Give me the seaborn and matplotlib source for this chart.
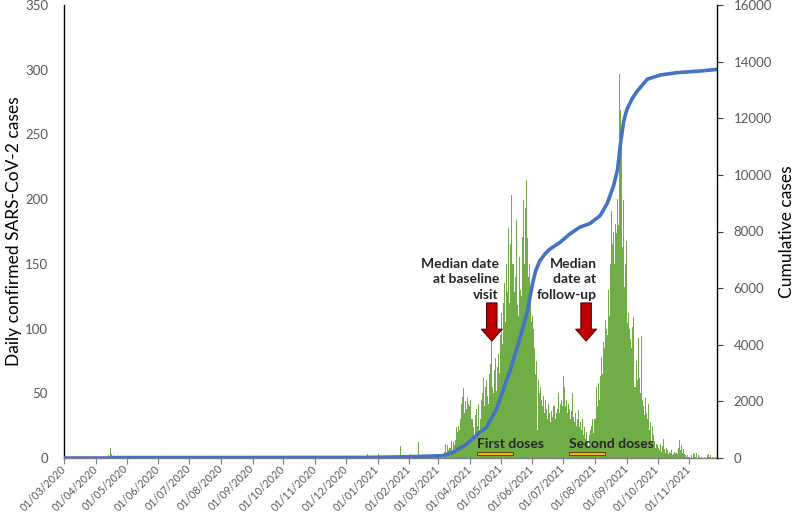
import numpy as np
import pandas as pd
import matplotlib
matplotlib.use("Agg")
import matplotlib.pyplot as plt
import matplotlib.dates as mdates
from matplotlib.patches import Rectangle
import seaborn as sns

# ---------------- data ----------------
early_dates = ["2020-04-11", "2020-04-13", "2020-04-15", "2020-04-16", "2020-04-18",
               "2020-04-21", "2020-05-02", "2020-12-18", "2020-12-22", "2020-12-23",
               "2020-12-28", "2021-01-02", "2021-01-06", "2021-01-13", "2021-01-18",
               "2021-01-23", "2021-01-26"]
early_cases = [1, 2, 8, 3, 2, 1, 1, 1, 3, 1, 1, 3, 1, 1, 2, 9, 1]

feb_2021 = [0, 3, 0, 0, 1, 0, 0, 2, 0, 12, 1, 0, 0, 1, 0, 0, 2, 0, 1, 0, 0, 1, 2, 0, 1, 0, 3, 1]
mar_2021 = [1, 0, 2, 1, 0, 3, 5, 11, 4, 10, 6, 8, 8, 13, 6, 12, 10, 14, 24, 20, 25, 22, 30, 42,
            47, 54, 35, 44, 38, 47, 42]
apr_2021 = [40, 45, 30, 24, 18, 33, 38, 25, 42, 22, 30, 45, 50, 62, 40, 55, 60, 48, 42, 65,
            73, 91, 55, 50, 68, 77, 52, 70, 80, 66]
may_2021 = [95, 112, 88, 120, 135, 105, 150, 128, 178, 120, 165, 203, 150, 128, 140, 184, 118,
            110, 155, 130, 125, 171, 199, 150, 193, 215, 170, 140, 150, 120, 105]
jun_2021 = [110, 100, 85, 65, 75, 22, 60, 50, 55, 45, 40, 48, 35, 45, 38, 30, 42, 35, 28, 36,
            32, 40, 30, 35, 38, 50, 35, 42, 45, 40]
jul_2021 = [63, 55, 40, 45, 35, 42, 38, 30, 36, 50, 32, 28, 35, 25, 30, 37, 24, 28, 22, 30,
            18, 24, 15, 20, 12, 9, 18, 22, 25, 30, 19]
aug_2021 = [30, 55, 40, 58, 45, 63, 78, 65, 90, 85, 107, 100, 95, 130, 110, 150, 191, 165, 175,
            150, 181, 174, 200, 180, 297, 269, 243, 163, 199, 132, 150]
sep_2021 = [168, 104, 112, 100, 92, 85, 101, 109, 55, 75, 60, 93, 62, 50, 94, 45, 40, 33, 46,
            35, 30, 42, 22, 28, 12, 25, 18, 13, 8, 11]
oct_2021 = [10, 8, 6, 11, 5, 9, 15, 7, 4, 8, 6, 3, 5, 4, 6, 2, 3, 5, 4, 3, 8, 14, 6, 10, 4, 7,
            3, 2, 1, 2, 1]
nov_2021 = [1, 0, 2, 0, 4, 3, 1, 4, 0, 2, 1, 0, 1, 0, 0, 1, 0, 0, 2, 3, 1, 2, 0, 1, 0, 0, 1,
            0, 0, 0]

cum_dates = ["2020-03-01", "2020-04-12", "2020-04-22", "2020-12-20", "2021-01-25", "2021-02-15",
             "2021-03-05", "2021-03-15", "2021-03-29", "2021-04-10", "2021-04-17", "2021-04-27",
             "2021-05-03", "2021-05-10", "2021-05-20", "2021-05-27", "2021-06-01", "2021-06-04",
             "2021-06-08", "2021-06-13", "2021-06-18", "2021-06-28", "2021-07-07", "2021-07-17",
             "2021-07-27", "2021-08-06", "2021-08-13", "2021-08-19", "2021-08-23", "2021-08-26",
             "2021-08-29", "2021-09-01", "2021-09-06", "2021-09-11", "2021-09-21", "2021-10-04",
             "2021-10-20", "2021-11-12", "2021-11-28"]
cum_cases = [0, 0, 15, 20, 40, 60, 80, 190, 490, 890, 1070, 1730, 2360, 3070, 4250, 5190, 6150,
             6600, 6950, 7200, 7380, 7620, 7900, 8150, 8280, 8560, 9000, 9600, 10200, 11150,
             11900, 12300, 12680, 12950, 13380, 13530, 13610, 13670, 13725]

month_ticks = pd.date_range("2020-03-01", "2021-11-01", freq="MS")
month_labels = [d.strftime("%d/%m/%Y") for d in month_ticks]

# ---------------- build frames ----------------
days = pd.date_range("2020-03-01", "2021-11-30", freq="D")
daily = pd.Series(0.0, index=days)
daily.loc[pd.to_datetime(early_dates)] = early_cases
daily.loc["2021-02-01":] = np.concatenate([feb_2021, mar_2021, apr_2021, may_2021, jun_2021,
                                           jul_2021, aug_2021, sep_2021, oct_2021, nov_2021])
df = pd.DataFrame({"day": mdates.date2num(days), "cases": daily.values})
cum_df = pd.DataFrame({"day": mdates.date2num(pd.to_datetime(cum_dates)), "cum": cum_cases})

# ---------------- style ----------------
sns.set_style("white")
plt.rcParams["font.family"] = ["Lato", "DejaVu Sans"]

fig = plt.figure(figsize=(7.96, 5.13), dpi=100)
ax = fig.add_axes([64 / 796, 55 / 513, 653 / 796, 453 / 513])

sns.histplot(data=df, x="day", weights="cases", discrete=True, shrink=1.0,
             color="#70AD47", alpha=1, linewidth=0, antialiased=False, ax=ax)

ax2 = ax.twinx()
sns.lineplot(data=cum_df, x="day", y="cum", ax=ax2, color="#4472C4", linewidth=2.6)

x0 = mdates.date2num(pd.Timestamp("2020-03-01"))
ax.set_xlim(x0, x0 + 637)
ax.set_ylim(0, 350)
ax2.set_ylim(0, 16000)

ax.set_xticks(mdates.date2num(month_ticks))
ax.set_xticklabels(month_labels, rotation=45, ha="right", va="center",
                   rotation_mode="anchor", fontsize=7.7, color="#595959")
ax.tick_params(axis="x", length=4, width=0.8, color="#7f7f7f", pad=2.5, direction="out",
               bottom=True)
ax.set_yticks(range(0, 351, 50))
ax.tick_params(axis="y", length=0, labelsize=9.5, labelcolor="#595959", pad=11.5)
ax2.set_yticks(range(0, 16001, 2000))
ax2.tick_params(axis="y", length=4, width=0.8, color="#404040", direction="out",
                labelsize=9.5, labelcolor="#595959", pad=8, right=True)

for s in ["top", "right"]:
    ax.spines[s].set_visible(False)
ax.spines["left"].set_color("black")
ax.spines["left"].set_linewidth(1.0)
ax.spines["bottom"].set_color("#7f7f7f")
ax.spines["bottom"].set_linewidth(1.0)
for s in ["top", "left", "bottom"]:
    ax2.spines[s].set_visible(False)
ax2.spines["right"].set_color("black")
ax2.spines["right"].set_linewidth(1.0)

ax.set_xlabel("")
ax.set_ylabel("Daily confirmed SARS-CoV-2 cases", fontsize=12.5, color="black")
ax.yaxis.set_label_coords(-0.064, 0.5)
ax2.set_xlabel("")
ax2.set_ylabel("Cumulative cases", fontsize=12.5, color="black")
ax2.yaxis.set_label_coords(1.095, 0.5)

# ---------------- annotations ----------------
def dn(s):
    return mdates.date2num(pd.Timestamp(s))

ax.text(dn("2021-04-29") + 0.4, 138, "Median date\nat baseline\nvisit", ha="right",
        va="center", multialignment="right", fontsize=10, fontweight="bold",
        linespacing=1.35, zorder=6)
ax.text(dn("2021-08-02") + 0.4, 138, "Median\ndate at\nfollow-up", ha="right",
        va="center", multialignment="right", fontsize=10, fontweight="bold",
        linespacing=1.35, zorder=6)

arrow_style = "simple,head_length=0.85,head_width=1.5,tail_width=0.75"
for xd in [dn("2021-04-22") + 0.3, dn("2021-07-23") + 0.3]:
    ax.annotate("", xy=(xd, 90.4), xytext=(xd, 119.8),
                arrowprops=dict(arrowstyle=arrow_style, mutation_scale=10, fc="#C00000",
                                ec="#5a0000", lw=0.8, shrinkA=0, shrinkB=0), zorder=6)

for start, label in [("2021-04-08", "First doses"), ("2021-07-07", "Second doses")]:
    ax.add_patch(Rectangle((dn(start), 2.3), 35, 2.4, fc="#FFC000", ec="#5f4a00", lw=0.8,
                           zorder=6))
    ax.text(dn(start), 10.5, label, ha="left", va="center", fontsize=10, fontweight="bold",
            zorder=6)

fig.savefig("out.png", dpi=100)
